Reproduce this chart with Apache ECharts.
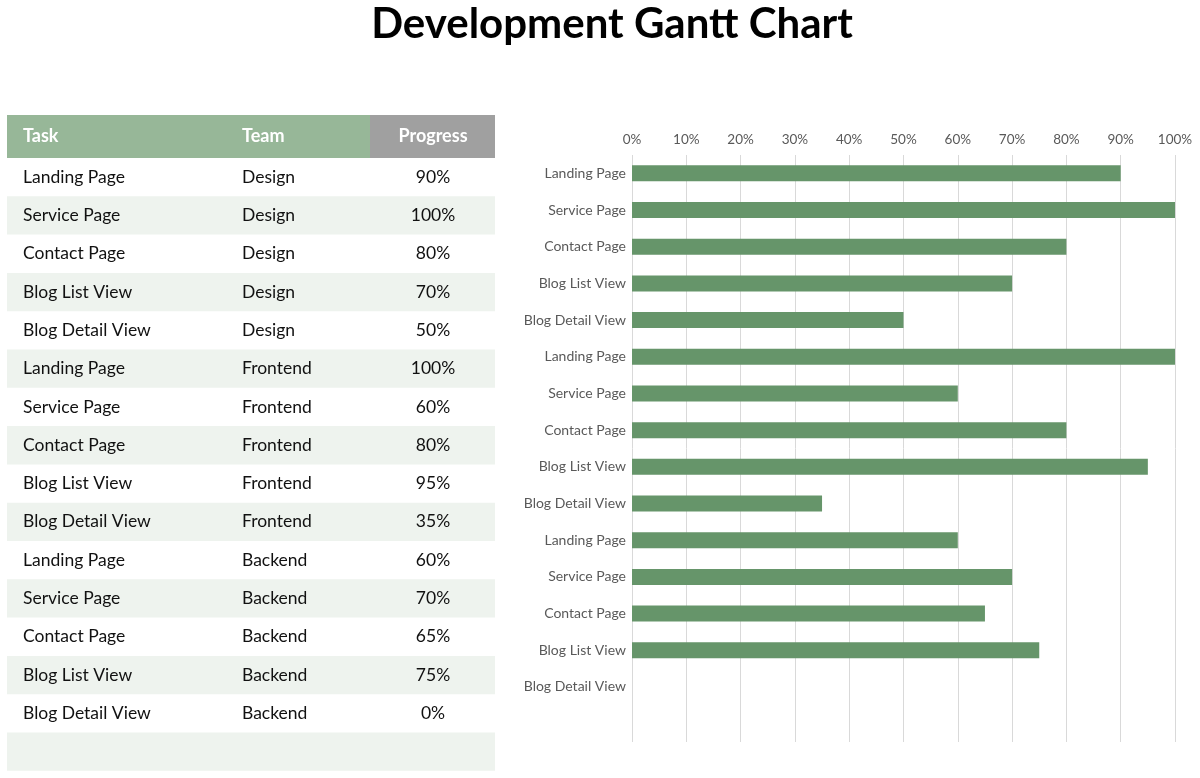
<!DOCTYPE html>
<html>
<head>
<meta charset="utf-8">
<script src="https://cdn.jsdelivr.net/npm/echarts@6/dist/echarts.min.js"></script>
<style>
  html, body { margin: 0; padding: 0; background: #fff; }
  #chart { width: 1200px; height: 778px; }
</style>
</head>
<body>
<div id="chart"></div>
<script>
// data
const tasks = ['Landing Page', 'Service Page', 'Contact Page', 'Blog List View', 'Blog Detail View',
  'Landing Page', 'Service Page', 'Contact Page', 'Blog List View', 'Blog Detail View',
  'Landing Page', 'Service Page', 'Contact Page', 'Blog List View', 'Blog Detail View'];
const teams = ['Design', 'Design', 'Design', 'Design', 'Design',
  'Frontend', 'Frontend', 'Frontend', 'Frontend', 'Frontend',
  'Backend', 'Backend', 'Backend', 'Backend', 'Backend'];
const progress = [90, 100, 80, 70, 50, 100, 60, 80, 95, 35, 60, 70, 65, 75, 0];
const headers = ['Task', 'Team', 'Progress'];
const xTicks = [0, 10, 20, 30, 40, 50, 60, 70, 80, 90, 100];

const font = 'Lato, "Noto Sans", sans-serif';

// table layout
const tblLeft = 7, tblRight = 495, hdrTop = 115, hdrH = 43, rowH = 38.3;
const colTask = 23, colTeam = 242, colProg = 433, progLeft = 370;

const graphics = [];
graphics.push({
  type: 'text', x: 612, y: 24,
  style: { text: 'Development Gantt Chart', fill: '#000', font: 'bold 42px ' + font, align: 'center', verticalAlign: 'middle' }
});
graphics.push({ type: 'rect', shape: { x: tblLeft, y: hdrTop, width: progLeft - tblLeft, height: hdrH }, style: { fill: '#97b798' } });
graphics.push({ type: 'rect', shape: { x: progLeft, y: hdrTop, width: tblRight - progLeft, height: hdrH }, style: { fill: '#a0a0a0' } });
[colTask, colTeam, colProg].forEach((x, i) => {
  graphics.push({
    type: 'text', x: x, y: hdrTop + hdrH / 2,
    style: { text: headers[i], fill: '#fff', font: 'bold 18px ' + font, align: i === 2 ? 'center' : 'left', verticalAlign: 'middle' }
  });
});
// rows (plus one empty striped row at bottom)
for (let i = 0; i <= tasks.length; i++) {
  const top = hdrTop + hdrH + i * rowH;
  if (i % 2 === 1) {
    graphics.push({ type: 'rect', shape: { x: tblLeft, y: top, width: tblRight - tblLeft, height: rowH }, style: { fill: '#eef3ee' } });
  }
  if (i < tasks.length) {
    const cy = top + rowH / 2;
    graphics.push({ type: 'text', x: colTask, y: cy, style: { text: tasks[i], fill: '#111', font: '17.5px ' + font, verticalAlign: 'middle' } });
    graphics.push({ type: 'text', x: colTeam, y: cy, style: { text: teams[i], fill: '#111', font: '17.5px ' + font, verticalAlign: 'middle' } });
    graphics.push({ type: 'text', x: colProg, y: cy, style: { text: progress[i] + '%', fill: '#111', font: '17.5px ' + font, align: 'center', verticalAlign: 'middle' } });
  }
}

const chart = echarts.init(document.getElementById('chart'));
chart.setOption({
  animation: false,
  graphic: graphics,
  grid: { left: 632, right: 25, top: 155, height: 587 },
  xAxis: {
    type: 'value', position: 'top', min: 0, max: 100, interval: 10,
    axisLine: { show: false }, axisTick: { show: false },
    axisLabel: { formatter: v => xTicks.includes(v) ? v + '%' : '', color: '#595959', fontFamily: font, fontSize: 13.5, margin: 8 },
    splitLine: { lineStyle: { color: '#d9d9d9', width: 1 } }
  },
  yAxis: {
    type: 'category', inverse: true,
    data: tasks.concat(['']),
    axisLine: { show: false }, axisTick: { show: false },
    axisLabel: { color: '#595959', fontFamily: font, fontSize: 14, margin: 6 }
  },
  series: [{
    type: 'bar',
    data: progress,
    barWidth: 16,
    itemStyle: { color: '#66956a' }
  }]
});
</script>
</body>
</html>
